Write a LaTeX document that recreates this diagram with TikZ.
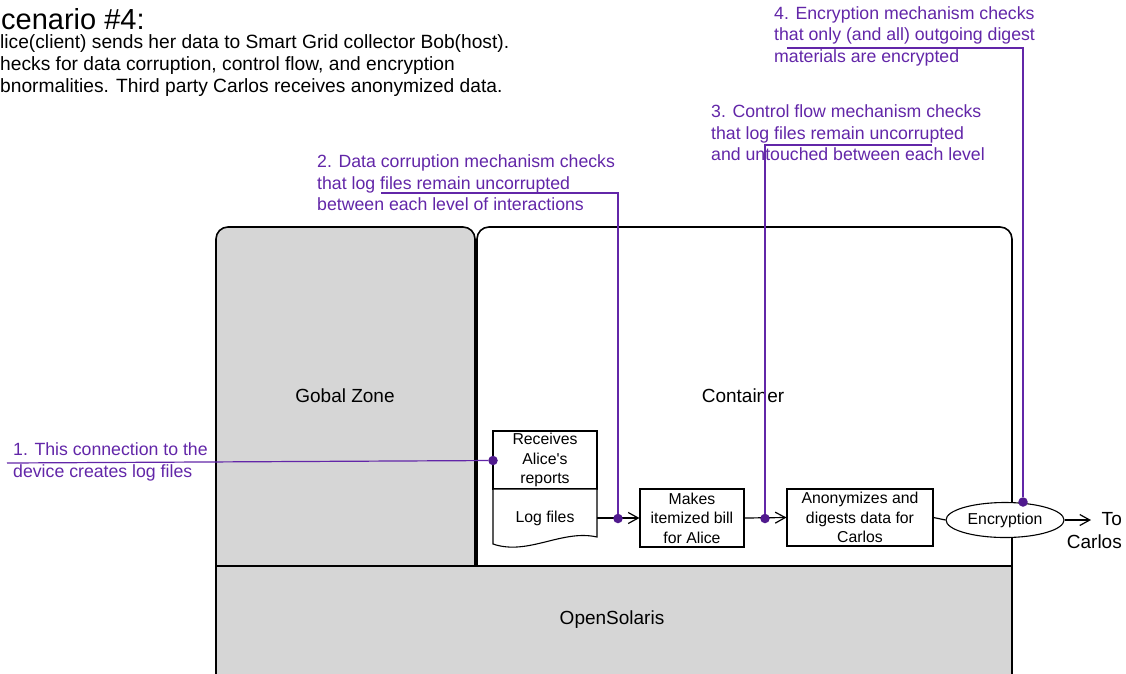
\documentclass[tikz,border=0pt]{standalone}
\usepackage{fontspec}
\setmainfont{Liberation Sans}
\usetikzlibrary{arrows.meta,shapes.geometric}
\definecolor{zonegray}{RGB}{214,214,214}
\definecolor{notepurple}{RGB}{98,38,168}
\definecolor{dotpurple}{RGB}{80,26,142}
% straight apostrophe, set as a glyph so the TeX quote mapping leaves it alone
\newcommand{\straightquote}{\XeTeXglyph\XeTeXcharglyph"0027\relax}
\tikzset{
  layer/.style={draw=black,line width=1.6pt},
  procbox/.style={draw=black,line width=1.1pt,fill=white,inner sep=0pt,align=center,
    font=\fontsize{15.8}{19.5}\selectfont},
  note/.style={text=notepurple,inner sep=0pt,align=left,anchor=west,
    font=\fontsize{17.7}{21.5}\selectfont},
  noteline/.style={draw=notepurple,line width=1.2pt},
  hit/.style={circle,fill=dotpurple,inner sep=0pt,minimum size=9.5pt},
  flow/.style={draw=black,line width=1.2pt,-{Straight Barb[length=10pt,width=11pt,line width=1.2pt]}},
  plainflow/.style={draw=black,line width=1.2pt},
  bigtext/.style={inner sep=0pt,font=\fontsize{19}{22}\selectfont}
}
\begin{document}
\begin{tikzpicture}[x=1pt,y=-1pt]
\useasboundingbox (0,0) rectangle (1126,673);

% header text
\node[inner sep=0pt,anchor=west,font=\fontsize{29}{32}\selectfont] (title) at (1,19) {cenario \#4:};
\node[inner sep=0pt,anchor=west,align=left,font=\fontsize{19.2}{22}\selectfont] (intro) at (0,65.5)
  {lice(client) sends her data to Smart Grid collector Bob(host).\\
   hecks for data corruption, control flow, and encryption\\
   bnormalities. Third party Carlos receives anonymized data.};

% zones
\path[layer,fill=zonegray,rounded corners=12pt] (216,590) rectangle (475,227);
\path[layer,fill=white,rounded corners=12pt] (477,590) rectangle (1012,227);
\path[layer,fill=zonegray] (216,690) rectangle (1012,566);
\node[bigtext] (gz) at (345,396) {Gobal Zone};
\node[bigtext] (ct) at (743,396) {Container};
\node[bigtext] (os) at (612,620) {OpenSolaris};

% process boxes
\node[procbox,minimum width=104pt,minimum height=58pt] (recv) at (545,460)
  {Receives\\Alice\straightquote s\\reports};
\draw[line width=1.1pt,fill=white] (493,489) -- (597,489) -- (597,537)
  .. controls (562,529) and (528,556) .. (493,544) -- cycle;
\node[procbox,draw=none,fill=none] (logs) at (545,518) {Log files};
\coordinate (logsout) at (597,518);
\node[procbox,minimum width=104pt,minimum height=58pt] (bill) at (692,518)
  {Makes\\itemized bill\\for Alice};
\node[procbox,minimum width=146pt,minimum height=57pt] (anon) at (860,517.5)
  {Anonymizes and\\digests data for\\Carlos};
\node[procbox,ellipse,minimum width=118pt,minimum height=35pt] (enc) at (1005,520)
  {Encryption};
\node[bigtext,align=right,anchor=east,font=\fontsize{19}{23}\selectfont] (carlos) at (1122,531)
  {To\\Carlos};
\coordinate (carlosin) at (1091,520);

% data flow
\draw[flow] (logsout) -- (bill.west);
\draw[flow] (bill.east) -- (anon.west);
\draw[plainflow] (anon.east) -- (enc.west);
\draw[flow] (enc.east) -- (carlosin);

% check points
\node[hit] (h1) at (493,460.5) {};
\node[hit] (h2) at (618,518.5) {};
\node[hit] (h3) at (765,518.5) {};
\node[hit] (h4) at (1023,502) {};

% notes
\node[note] (n1) at (13,462) {1. This connection to the\\device creates log files};
\node[note] (n2) at (317,183) {2. Data corruption mechanism checks\\that log files remain uncorrupted\\between each level of interactions};
\node[note] (n3) at (711,133) {3. Control flow mechanism checks\\that log files remain uncorrupted\\and untouched between each level};
\node[note] (n4) at (774,36) {4. Encryption mechanism checks\\that only (and all) outgoing digest\\materials are encrypted};

\coordinate (s1) at (7,463);
\coordinate (s2) at (381,193);
\coordinate (s3) at (932,145);
\coordinate (s4) at (787,48);
\draw[noteline] (s1) -- (h1);
\draw[noteline] (s2) -| (h2);
\draw[noteline] (s3) -| (h3);
\draw[noteline] (s4) -| (h4);
\end{tikzpicture}
\end{document}
